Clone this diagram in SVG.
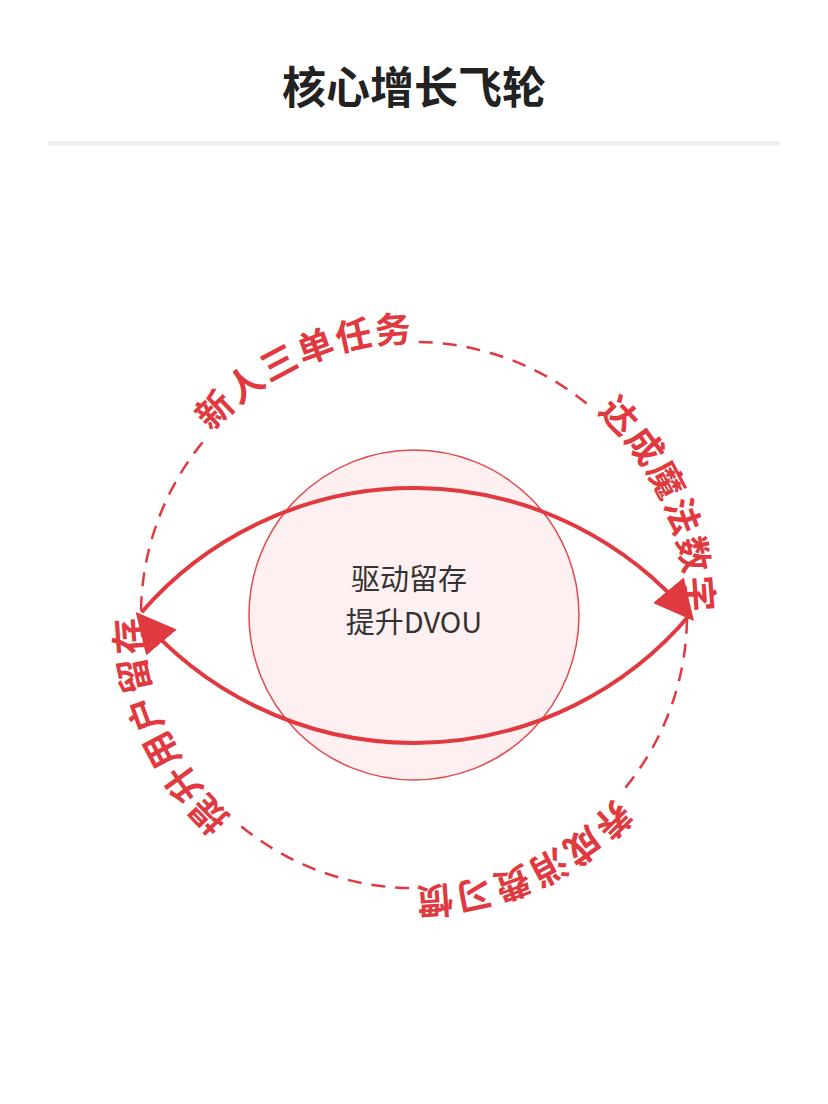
<svg xmlns="http://www.w3.org/2000/svg" xmlns:xlink="http://www.w3.org/1999/xlink" width="828" height="1104" viewBox="0 0 828 1104">
  <style>
    .title { font-family: "Noto Sans CJK SC", "Noto Sans", sans-serif; font-size: 44px; font-weight: 700; fill: #222222; }
    .center-text { font-family: "Noto Sans CJK SC", "Noto Sans", sans-serif; font-size: 29px; fill: #333333; }
    .ring-label { font-family: "Noto Sans CJK SC", "Noto Sans", sans-serif; font-size: 36px; font-weight: 700; fill: #e03a40; letter-spacing: 2px; }
    .ring { fill: none; stroke: #e03a40; stroke-width: 2.5; stroke-dasharray: 14 10; }
    .flow { fill: none; stroke: #e03a40; stroke-width: 4; marker-end: url(#ah); }
  </style>
  <defs>
    <marker id="ah" markerUnits="userSpaceOnUse" viewBox="0 0 40 40" markerWidth="40" markerHeight="40" refX="36" refY="20" orient="auto">
      <path d="M0,0 L40,20 L0,40 Z" fill="#e03a40"/>
    </marker>
    <path id="pA" d="M159.1,517.2 A273,273 0 0 1 511.8,360.1"/>
    <path id="pB" d="M511.8,360.1 A273,273 0 0 1 668.9,712.8"/>
    <path id="pC" d="M668.9,712.8 A273,273 0 0 1 316.2,869.9"/>
    <path id="pD" d="M316.2,869.9 A273,273 0 0 1 159.1,517.2"/>
  </defs>

  <rect width="828" height="1104" fill="#ffffff"/>

  <g id="title">
    <text class="title" x="414" y="104" text-anchor="middle">核心增长飞轮</text>
    <rect x="48" y="141" width="732" height="4.5" fill="#efefef"/>
  </g>

  <g id="ring">
    <path class="ring" d="M418.8,342.0 A273,273 0 0 1 593.1,409.0"/>
    <path class="ring" d="M687.0,619.8 A273,273 0 0 1 620.0,794.1"/>
    <path class="ring" d="M409.2,888.0 A273,273 0 0 1 234.9,821.0"/>
    <path class="ring" d="M141.0,610.2 A273,273 0 0 1 208.0,435.9"/>
  </g>

  <g id="core">
    <circle cx="414" cy="615" r="165" fill="#fef0f0" stroke="#e04a4e" stroke-width="1.5"/>
    <text class="center-text" x="409" y="590" text-anchor="middle">驱动留存</text>
    <text class="center-text" x="414" y="633" text-anchor="middle">提升DVOU</text>
  </g>

  <g id="connectors">
    <path class="flow" d="M141.6,612.2 A361,361 0 0 1 691.4,617.9"/>
    <path class="flow" d="M690.5,614.0 A361,361 0 0 1 138.3,615.0"/>
  </g>

  <g id="label-new">
    <text class="ring-label"><textPath xlink:href="#pA" href="#pA" startOffset="50%" text-anchor="middle">新人三单任务</textPath></text>
  </g>
  <g id="label-magic">
    <text class="ring-label"><textPath xlink:href="#pB" href="#pB" startOffset="50%" text-anchor="middle">达成魔法数字</textPath></text>
  </g>
  <g id="label-habit">
    <text class="ring-label"><textPath xlink:href="#pC" href="#pC" startOffset="50%" text-anchor="middle">养成消费习惯</textPath></text>
  </g>
  <g id="label-retain">
    <text class="ring-label"><textPath xlink:href="#pD" href="#pD" startOffset="50%" text-anchor="middle">提升用户留存</textPath></text>
  </g>
</svg>
